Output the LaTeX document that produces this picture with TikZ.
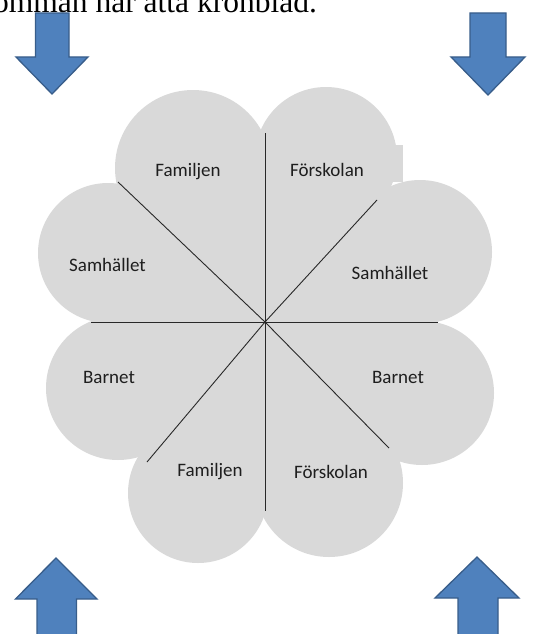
\documentclass[tikz,border=0pt]{standalone}
\usepackage{fontspec}
\setmainfont{Liberation Serif}
\newfontfamily\lblfont{Carlito}
\definecolor{petal}{RGB}{217,217,217}
\definecolor{arrowfill}{RGB}{79,129,189}
\definecolor{arrowedge}{RGB}{56,93,138}
\definecolor{linecol}{RGB}{40,40,40}
\definecolor{txtcol}{RGB}{30,30,30}
\tikzset{
  petalfill/.style={fill=petal},
  bigarrow/.style={fill=arrowfill, draw=arrowedge, line width=1.3pt, line join=miter},
  divider/.style={draw=linecol, line width=0.9pt},
  lbl/.style={font=\lblfont\fontsize{19}{22}\selectfont, text=txtcol, inner sep=1pt},
}
\begin{document}
\begin{tikzpicture}[x=1pt,y=-1pt]
\useasboundingbox (0,0) rectangle (533,634);

% heading (cut off at the top)
\node[anchor=base west, inner sep=0, font=\fontsize{31.5}{34}\selectfont] (title) at (-7,12.2) {omman har åtta kronblad.};

% arrows
\filldraw[bigarrow] (35.5,13) -- (69,13) -- (69,57) -- (88,57) -- (52,94) -- (16,57) -- (35.5,57) -- cycle;
\filldraw[bigarrow] (470,13) -- (506,13) -- (506,57) -- (525,57) -- (488,95) -- (451,57) -- (470,57) -- cycle;
\filldraw[bigarrow] (37,640) -- (37,599) -- (15.5,599) -- (56,558) -- (97,599) -- (76.5,599) -- (76.5,640);
\filldraw[bigarrow] (458,640) -- (458,598) -- (435,598) -- (477,557) -- (519,598) -- (498,598) -- (498,640);

% flower
\fill[petalfill] (193,168) -- (326,158) -- (420,252) -- (422,393) -- (329,483) -- (198,493) -- (118,388) -- (108,253) -- cycle;
\fill[petalfill] (193,168) circle[radius=78pt];
\fill[petalfill] (326,158) circle[radius=71pt];
\fill[petalfill] (420,252) circle[radius=72pt];
\fill[petalfill] (422,393) circle[radius=72pt];
\fill[petalfill] (329,483) circle[radius=74pt];
\fill[petalfill] (198,493) circle[radius=70pt];
\fill[petalfill] (118,388) circle[radius=72pt];
\fill[petalfill] (108,253) circle[radius=70pt];
\fill[petalfill] (388,145) rectangle (403,182);

% dividing lines
\coordinate (c) at (265,322);
\coordinate (top) at (265,133);
\coordinate (bot) at (265,511);
\coordinate (lft) at (91,322);
\coordinate (rgt) at (438,322);
\coordinate (ul) at (118,182);
\coordinate (ur) at (377,200);
\coordinate (ll) at (147,462);
\coordinate (lr) at (389,448);
\draw[divider] (top) -- (bot);
\draw[divider] (lft) -- (rgt);
\draw[divider] (ul) -- (c) -- (lr);
\draw[divider] (ur) -- (c) -- (ll);

% labels
\node[lbl] (famtop) at (188,172) {Familjen};
\node[lbl] (forsktop) at (327,170) {Förskolan};
\node[lbl] (samleft) at (107.5,265) {Samhället};
\node[lbl] (samright) at (390,273) {Samhället};
\node[lbl] (barnleft) at (109,377) {Barnet};
\node[lbl] (barnright) at (398,377) {Barnet};
\node[lbl] (fambot) at (210,472) {Familjen};
\node[lbl] (forskbot) at (331,472) {Förskolan};
\end{tikzpicture}
\end{document}
